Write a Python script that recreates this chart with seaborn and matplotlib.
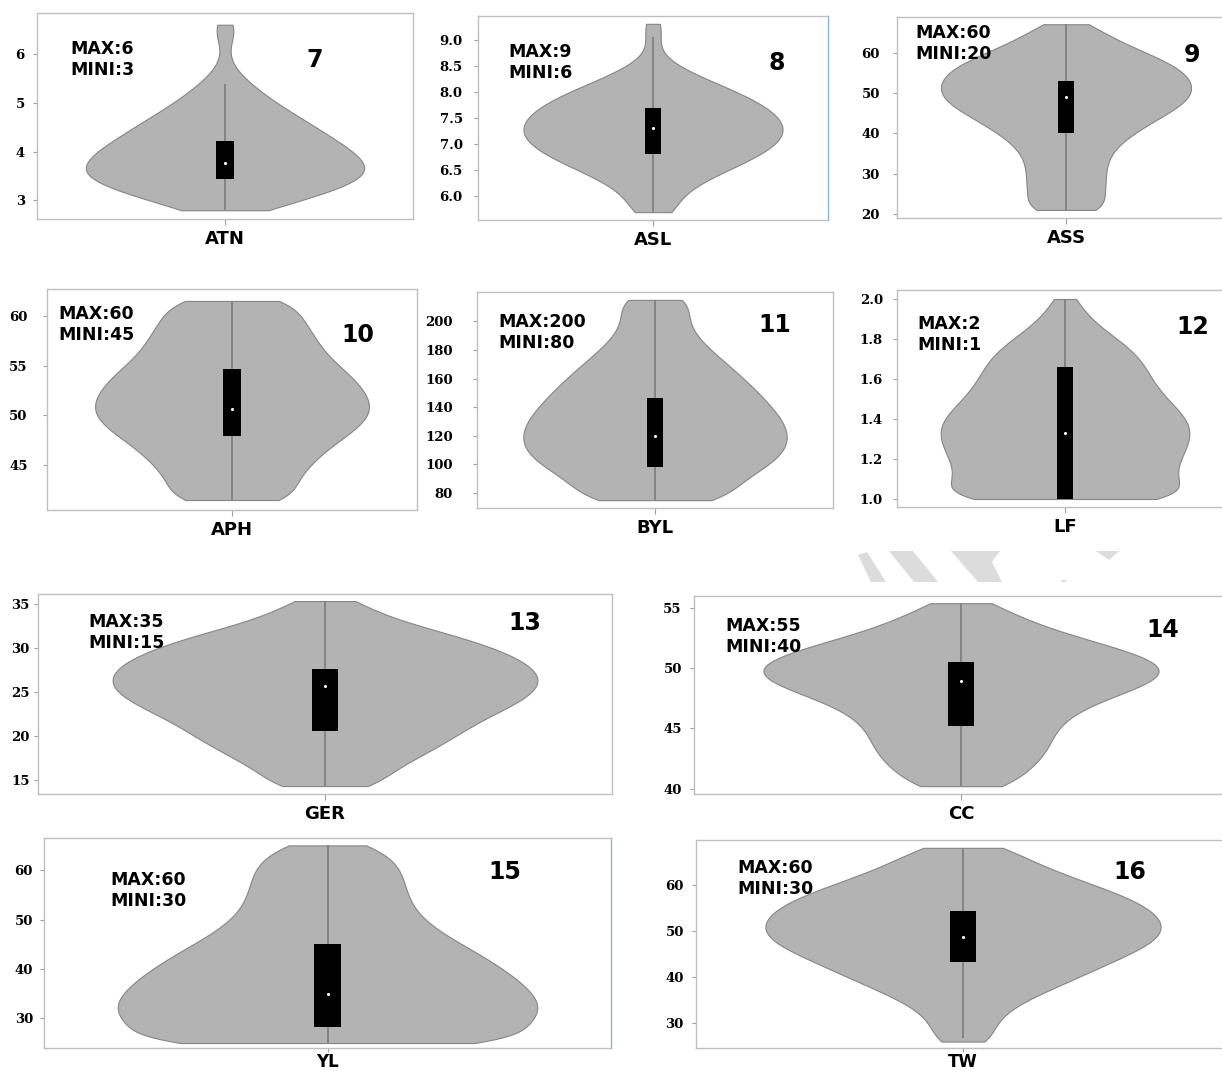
import numpy as np
import matplotlib
matplotlib.use('Agg')
import matplotlib.pyplot as plt
from matplotlib.patches import Polygon
import seaborn as sns

sns.set_style('ticks')
plt.rcParams['font.family'] = ['DejaVu Sans']
plt.rcParams['text.color'] = 'black'

atn_vals = [2.8, 3.0, 3.2, 3.4, 3.6, 3.8, 4.0, 4.2, 4.4, 4.6, 4.8, 5.0, 5.2, 5.4, 5.6, 5.8, 6.0, 6.2, 6.4, 6.6]
atn_counts = [29, 52, 73, 94, 100, 95, 87, 77, 66, 56, 45, 34, 25, 17, 9, 4, 2, 2, 8, 9]

asl_vals = [5.7, 5.9, 6.1, 6.3, 6.5, 6.7, 6.9, 7.1, 7.3, 7.5, 7.7, 7.9, 8.1, 8.3, 8.5, 8.7, 8.9, 9.1, 9.3]
asl_counts = [22, 15, 24, 36, 55, 73, 88, 97, 100, 95, 86, 72, 53, 33, 16, 4, 3, 6, 10]

ass_vals = [21, 23, 25, 27, 29, 31, 33, 35, 37, 39, 41, 43, 45, 47, 49, 51, 53, 55, 57, 59, 61, 63, 65, 67]
ass_counts = [40, 28, 30, 31, 31, 31, 32, 35, 40, 48, 58, 68, 80, 91, 98, 100, 98, 94, 84, 70, 54, 40, 28, 21]

aph_vals = [41.5, 42.5, 43.5, 44.5, 45.5, 46.5, 47.5, 48.5, 49.5, 50.5, 51.5, 52.5, 53.5, 54.5, 55.5,
            56.5, 57.5, 58.5, 59.5, 60.5, 61.5]
aph_counts = [56, 41, 46, 52, 58, 66, 76, 87, 96, 100, 98, 94, 88, 80, 71, 64, 60, 56, 51, 45, 53]

byl_vals = [75, 82, 89, 96, 103, 110, 117, 124, 131, 138, 145, 152, 159, 166, 173, 180, 187, 194, 201, 208, 215]
byl_counts = [69, 53, 65, 79, 91, 98, 100, 99, 95, 89, 82, 75, 67, 59, 50, 41, 33, 27, 24, 23, 36]

lf_vals = [1.0, 1.05, 1.1, 1.15, 1.2, 1.25, 1.3, 1.35, 1.4, 1.45, 1.5, 1.55, 1.6, 1.65, 1.7, 1.75,
           1.8, 1.85, 1.9, 1.95, 2.0]
lf_counts = [130, 88, 88, 88, 92, 97, 100, 102, 98, 90, 81, 74, 69, 65, 61, 53, 42, 30, 20, 13, 11]

ger_vals = [14.3, 15.3, 16.3, 17.3, 18.3, 19.3, 20.3, 21.3, 22.3, 23.3, 24.3, 25.3, 26.3, 27.3, 28.3,
            29.3, 30.3, 31.3, 32.3, 33.3, 34.3, 35.3]
ger_counts = [31, 25, 33, 41, 48, 56, 62, 68, 76, 85, 93, 98, 100, 98, 93, 85, 75, 61, 46, 30, 20, 18]

cc_vals = [40.2, 41.0, 41.8, 42.6, 43.4, 44.2, 45.0, 45.8, 46.6, 47.4, 48.2, 49.0, 49.8, 50.6, 51.4,
           52.2, 53.0, 53.8, 54.6, 55.4]
cc_counts = [28, 27, 34, 39, 41, 43, 45, 49, 56, 67, 81, 94, 100, 94, 80, 63, 46, 33, 23, 17]

yl_vals = [25, 27, 29, 31, 33, 35, 37, 39, 41, 43, 45, 47, 49, 51, 53, 55, 57, 59, 61, 63, 65]
yl_counts = [120, 80, 96, 100, 99, 96, 91, 85, 78, 71, 62, 54, 47, 42, 39, 37, 36, 35, 33, 29, 24]

tw_vals = [26, 28, 30, 32, 34, 36, 38, 40, 42, 44, 46, 48, 50, 52, 54, 56, 58, 60, 62, 64, 66, 68]
tw_counts = [17, 14, 16, 20, 26, 36, 47, 57, 67, 77, 88, 96, 100, 99, 95, 88, 78, 64, 51, 39, 29, 26]

traits = ['ATN', 'ASL', 'ASS', 'APH', 'BYL', 'LF', 'GER', 'CC', 'YL', 'TW']
panel_nums = ['7', '8', '9', '10', '11', '12', '13', '14', '15', '16']
max_vals = [6, 9, 60, 60, 200, 2, 35, 55, 60, 60]
min_vals = [3, 6, 20, 45, 80, 1, 15, 40, 30, 30]

# box summary
q1 = [3.44, 6.81, 40.0, 47.9, 98.3, 1.0, 20.6, 45.2, 28.3, 43.25]
med = [3.77, 7.30, 49.1, 50.65, 120.0, 1.33, 25.65, 48.9, 35.0, 48.7]
q3 = [4.22, 7.70, 53.0, 54.7, 146.5, 1.66, 27.6, 50.55, 45.0, 54.25]
whis_lo = [2.8, 5.7, 21.0, 41.5, 75.0, 1.0, 14.3, 40.2, 25.0, 26.7]
whis_hi = [5.38, 9.05, 67.0, 61.5, 215.0, 2.0, 35.3, 55.4, 65.0, 68.0]

yticks = [
    [3, 4, 5, 6],
    [6.0, 6.5, 7.0, 7.5, 8.0, 8.5, 9.0],
    [20, 30, 40, 50, 60],
    [45, 50, 55, 60],
    [80, 100, 120, 140, 160, 180, 200],
    [1.0, 1.2, 1.4, 1.6, 1.8, 2.0],
    [15, 20, 25, 30, 35],
    [40, 45, 50, 55],
    [30, 40, 50, 60],
    [30, 40, 50, 60],
]
ylims = [(2.62, 6.84), (5.55, 9.45), (19.0, 68.8), (40.5, 62.7), (69.5, 220.5),
         (0.96, 2.045), (13.4, 36.1), (39.55, 56.0), (24.0, 66.5), (24.6, 69.7)]

series = [(atn_vals, atn_counts), (asl_vals, asl_counts), (ass_vals, ass_counts),
          (aph_vals, aph_counts), (byl_vals, byl_counts), (lf_vals, lf_counts),
          (ger_vals, ger_counts), (cc_vals, cc_counts), (yl_vals, yl_counts),
          (tw_vals, tw_counts)]

# panel boxes in pixels: left, top, right, bottom
boxes = [(37, 13, 413, 219), (478, 16, 828, 220), (897, 17, 1235, 218),
         (47, 289, 417, 510), (477, 292, 833, 508), (897, 290, 1233, 507),
         (38, 594, 612, 794), (694, 596, 1228, 794),
         (44, 838, 611, 1048), (696, 840, 1230, 1048)]
ytick_pad = [5.8, 8, 9.4, 11, 14.4, 7.2, 3, 5.8, 5, 5.8]
max_xy = [(70, 40), (508, 43), (915, 24), (58, 305), (498, 313), (917, 315),
          (88, 613), (725, 617), (110, 871), (737, 859)]
num_xy = [(315, 48), (777, 51), (1192, 43), (358, 323), (775, 313), (1193, 315),
          (525, 611), (1163, 618), (505, 860), (1130, 860)]

W, H = 1222, 1071
FILL = '#b3b3b3'
EDGE = '#858585'

fig = plt.figure(figsize=(W / 100, H / 100), dpi=100)

# faint watermark stripes between the second and third rows
stripes = [
    [(858, 555), (867, 552), (886, 582), (871, 582)],
    [(889, 551), (913, 551), (938, 582), (914, 582)],
    [(951, 551), (1000, 551), (992, 562), (1002, 582), (978, 582)],
    [(1096, 551), (1119, 551), (1109, 560)],
    [(1060, 582), (1067, 582), (1064, 579)],
]
for pts in stripes:
    fig.patches.append(Polygon([(x / W, 1 - y / H) for x, y in pts], closed=True,
                               transform=fig.transFigure, facecolor='#dcdcdc',
                               edgecolor='none', zorder=0))

for i, name in enumerate(traits):
    l, t, r, b = boxes[i]
    ax = fig.add_axes([l / W, 1 - b / H, (r - l) / W, (b - t) / H])
    vals, counts = series[i]
    data = np.repeat(vals, counts)
    step = np.diff(vals).min()
    bw = 1.2 * step / np.std(data, ddof=1)
    sns.violinplot(x=[name] * len(data), y=data, ax=ax, color=FILL, linecolor=EDGE,
                   linewidth=0.8, inner=None, cut=0, width=0.74, bw_method=bw,
                   saturation=1)
    ax.vlines(0, whis_lo[i], whis_hi[i], color='#808080', lw=1.3, zorder=3)
    ax.bar(0, q3[i] - q1[i], bottom=q1[i], width=0.047, color='black',
           linewidth=0, zorder=4)
    ax.scatter([0], [med[i]], s=5, color='white', linewidths=0, zorder=5)

    ax.set_xlim(-0.5, 0.5)
    ax.set_ylim(*ylims[i])
    ax.set_xlabel('')
    ax.set_ylabel('')
    ax.set_xticks([0])
    bottom_row = i >= 8
    ax.set_xticklabels([name], fontsize=12 if bottom_row else 13,
                       fontweight='bold', color='black')
    fmt = '{:.1f}' if name in ('ASL', 'LF') else '{:g}'
    ax.set_yticks(yticks[i])
    ax.set_yticklabels([fmt.format(v) for v in yticks[i]], fontsize=9.5,
                       fontweight='bold', family='DejaVu Serif', color='black')
    ax.tick_params(axis='x', length=3 if bottom_row else 4, width=0.8,
                   color='#a0a0a0', pad=0.5 if bottom_row else 4)
    ax.tick_params(axis='y', length=3, width=0.8, color='#a0a0a0', pad=ytick_pad[i])
    for sp in ax.spines.values():
        sp.set_visible(True)
        sp.set_color('#bfbfbf')
        sp.set_linewidth(1.0)
    if name in ('ASL', 'YL'):
        ax.spines['right'].set_color('#8db3e2')

    mx, my = max_xy[i]
    fig.text(mx / W, 1 - my / H, f'MAX:{max_vals[i]}\nMINI:{min_vals[i]}',
             fontsize=12.5, fontweight='bold', va='top', ha='left', linespacing=1.2)
    nx, ny = num_xy[i]
    fig.text(nx / W, 1 - ny / H, panel_nums[i], fontsize=17, fontweight='bold',
             va='top', ha='center')

fig.savefig('out.png', dpi=100)
